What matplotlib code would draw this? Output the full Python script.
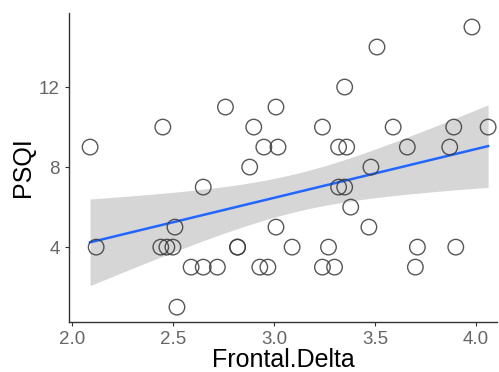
import matplotlib
matplotlib.use("Agg")
import matplotlib.pyplot as plt
import numpy as np

plt.rcParams["font.family"] = ["Liberation Sans", "DejaVu Sans"]

# values
frontal_delta = [2.09, 2.12, 2.45, 2.44, 2.47, 2.50, 2.51, 2.52, 2.65, 2.59,
                 2.65, 2.72, 2.76, 2.82, 2.82, 2.90, 2.88, 2.95, 3.01, 3.02,
                 2.93, 2.97, 3.01, 3.09, 3.24, 3.30, 3.27, 3.38, 3.32, 3.35,
                 3.48, 3.47, 3.71, 3.70, 3.90, 3.24, 3.35, 3.51, 3.98, 3.59,
                 3.32, 3.36, 3.66, 3.89, 3.87, 4.06]
psqi = [9, 4, 10, 4, 4, 4, 5, 1, 7, 3,
        3, 3, 11, 4, 4, 10, 8, 9, 11, 9,
        3, 3, 5, 4, 3, 3, 4, 6, 7, 7,
        8, 5, 4, 3, 4, 10, 12, 14, 15, 10,
        9, 9, 9, 10, 9, 10]
xticks = [2.0, 2.5, 3.0, 3.5, 4.0]
yticks = [4, 8, 12]

x = np.array(frontal_delta)
y = np.array(psqi)

# linear fit with 95% confidence band (like geom_smooth(method="lm"))
n = len(x)
slope, icpt = np.polyfit(x, y, 1)
resid = y - (slope * x + icpt)
s = np.sqrt(np.sum(resid ** 2) / (n - 2))
xs = np.linspace(x.min(), x.max(), 100)
ys = slope * xs + icpt
se = s * np.sqrt(1.0 / n + (xs - x.mean()) ** 2 / np.sum((x - x.mean()) ** 2))
tval = 2.015  # t(0.975, 44)

fig = plt.figure(figsize=(4.99, 3.72), dpi=100)
ax = fig.add_axes([0.138, 0.134, 0.858, 0.831])

ax.scatter(x, y, s=125, facecolors="none", edgecolors="#3a3a3a", linewidths=1.0, alpha=0.85, zorder=3)
ax.fill_between(xs, ys - tval * se, ys + tval * se, color="#999999", alpha=0.4, linewidth=0, zorder=1)
ax.plot(xs, ys, color="#2266FF", linewidth=1.8, zorder=2)

ax.set_xlim(1.985, 4.104)
ax.set_ylim(0.25, 15.7)
ax.set_xticks(xticks)
ax.set_xticklabels(["%.1f" % t for t in xticks])
ax.set_yticks(yticks)

for side in ["top", "right"]:
    ax.spines[side].set_visible(False)
for side in ["left", "bottom"]:
    ax.spines[side].set_color("#333333")
    ax.spines[side].set_linewidth(1.0)
ax.tick_params(colors="#333333", labelcolor="#666666", labelsize=13.5, length=3, width=0.8)

ax.set_xlabel("Frontal.Delta", fontsize=18, labelpad=0)
ax.set_ylabel("PSQI", fontsize=18, labelpad=3)

fig.savefig("out.png", dpi=100)
